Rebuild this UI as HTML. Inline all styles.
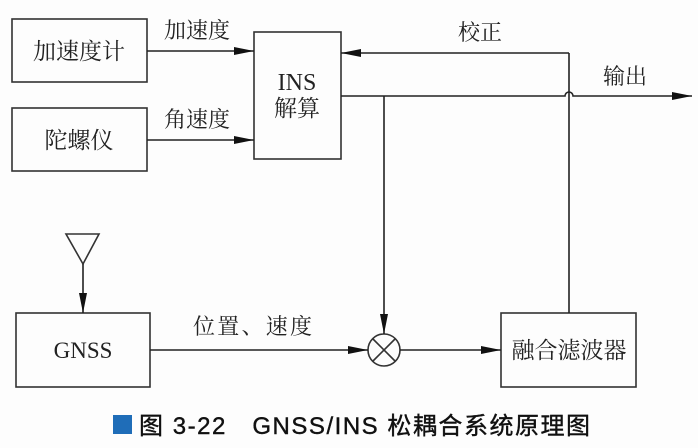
<!DOCTYPE html>
<html><head><meta charset="utf-8"><style>
html,body{margin:0;padding:0;background:#fdfdfd;}
svg{display:block;}
.t{font-family:"Liberation Serif","Noto Serif CJK SC","Noto Sans CJK SC",serif;fill:#222;}
</style></head><body>
<svg width="698" height="448" viewBox="0 0 698 448" xmlns="http://www.w3.org/2000/svg">
<defs>
<marker id="a" markerWidth="20" markerHeight="10" refX="20" refY="5" orient="auto" markerUnits="userSpaceOnUse">
<path d="M0,1 L20,5 L0,9 Z" fill="#111"/></marker>
</defs>
<g fill="none" stroke="#333" stroke-width="1.6">
<rect x="12" y="19" width="135" height="63"/>
<rect x="12" y="108" width="135" height="63"/>
<rect x="254" y="32" width="87" height="127"/>
<rect x="16" y="313" width="134" height="74"/>
<rect x="501" y="313" width="135" height="74"/>
<circle cx="384" cy="350" r="16"/>
<path d="M373,339 L395,361 M395,339 L373,361"/>
<path d="M66,234 L99,234 L83,264 Z"/>
</g>
<g stroke="#222" stroke-width="1.6" fill="none">
<line x1="147" y1="51" x2="254" y2="51" marker-end="url(#a)"/>
<line x1="147" y1="140" x2="254" y2="140" marker-end="url(#a)"/>
<line x1="569" y1="53" x2="341" y2="53" marker-end="url(#a)"/>
<line x1="569" y1="53" x2="569" y2="313"/>
<path d="M341,96 L565,96 A4,4 0 0 1 573,96 L692,96" marker-end="url(#a)"/>
<line x1="384" y1="96" x2="384" y2="334" marker-end="url(#a)"/>
<line x1="83" y1="264" x2="83" y2="313" marker-end="url(#a)"/>
<line x1="150" y1="350" x2="368" y2="350" marker-end="url(#a)"/>
<line x1="400" y1="350" x2="501" y2="350" marker-end="url(#a)"/>
</g>
<g class="t">
<text x="79" y="59" font-size="23" text-anchor="middle">加速度计</text>
<text x="79" y="148" font-size="23" text-anchor="middle">陀螺仪</text>
<text x="197" y="38" font-size="22" text-anchor="middle">加速度</text>
<text x="197" y="127" font-size="22" text-anchor="middle">角速度</text>
<text x="297" y="90" font-size="24" text-anchor="middle">INS</text>
<text x="297" y="116" font-size="23" text-anchor="middle">解算</text>
<text x="480" y="40" font-size="22" text-anchor="middle">校正</text>
<text x="625" y="84" font-size="22" text-anchor="middle">输出</text>
<text x="83" y="358" font-size="23" text-anchor="middle">GNSS</text>
<text x="193" y="334" font-size="22" textLength="119" lengthAdjust="spacing">位置、速度</text>
<text x="569" y="358" font-size="23" text-anchor="middle">融合滤波器</text>
</g>
<rect x="113" y="415" width="19" height="19" fill="#1f6db8"/>
<text x="139" y="434" font-size="24" textLength="451" lengthAdjust="spacing" stroke="#111" stroke-width="0.4" style="font-family:'Liberation Sans','Noto Sans CJK SC',sans-serif;fill:#111;">图 3-22　GNSS/INS 松耦合系统原理图</text>
</svg>
</body></html>
